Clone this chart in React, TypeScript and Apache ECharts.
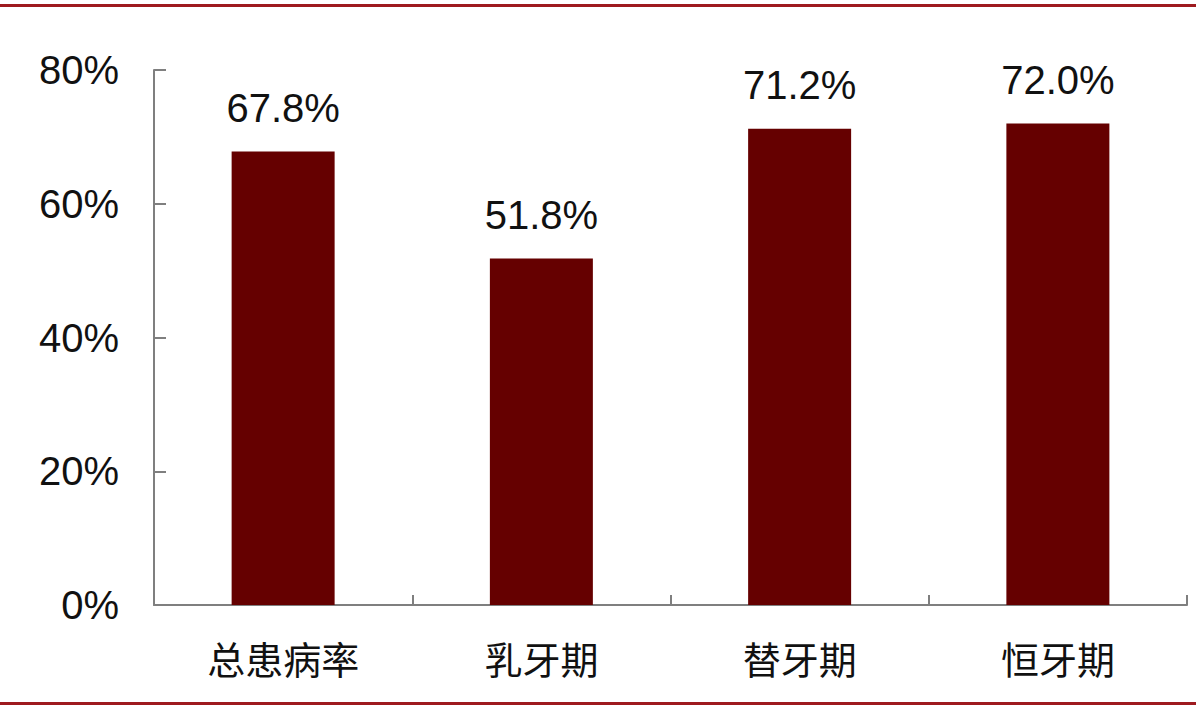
import React, { useEffect, useRef } from "react";
import * as echarts from "echarts";

const categories = ["总患病率", "乳牙期", "替牙期", "恒牙期"];
const values = [67.8, 51.8, 71.2, 72.0];
const yTicks = [0, 20, 40, 60, 80];

export default function App() {
  const ref = useRef<HTMLDivElement>(null);
  useEffect(() => {
    const chart = echarts.init(ref.current!, null, { renderer: "svg" });
    chart.setOption({
      animation: false,
      backgroundColor: "#ffffff",
      grid: { left: 154, right: 9, top: 70, bottom: 105, containLabel: false },
      graphic: [
        { type: "rect", shape: { x: 0, y: 4, width: 1196, height: 3 }, style: { fill: "#9e1a1f" } },
        { type: "rect", shape: { x: 0, y: 702, width: 1196, height: 3 }, style: { fill: "#9e1a1f" } },
      ],
      xAxis: {
        type: "category",
        data: categories,
        axisLine: { lineStyle: { color: "#7f7f7f", width: 2 } },
        axisTick: { show: true, inside: true, length: 10, lineStyle: { color: "#7f7f7f", width: 2 } },
        axisLabel: {
          margin: 33,
          fontSize: 38,
          color: "#111",
          fontFamily: "Noto Sans CJK SC",
        },
      },
      yAxis: {
        type: "value",
        min: yTicks[0],
        max: yTicks[yTicks.length - 1],
        interval: 20,
        splitLine: { show: false },
        axisLine: { show: true, lineStyle: { color: "#7f7f7f", width: 2 } },
        axisTick: { show: true, inside: true, length: 12, lineStyle: { color: "#7f7f7f", width: 2 } },
        axisLabel: {
          margin: 35,
          fontSize: 40,
          color: "#111",
          fontFamily: "Liberation Sans, Arial, sans-serif",
          formatter: (v: number) => v + "%",
        },
      },
      series: [
        {
          type: "bar",
          data: values,
          barWidth: 103,
          itemStyle: { color: "#650000" },
          label: {
            show: true,
            position: "top",
            distance: 24,
            fontSize: 40,
            color: "#111",
            fontFamily: "Liberation Sans, Arial, sans-serif",
            formatter: (p: any) => p.value.toFixed(1) + "%",
          },
        },
      ],
    });
    return () => chart.dispose();
  }, []);
  return (
    <div
      ref={ref}
      style={{ position: "fixed", left: 0, top: 0, width: 1196, height: 710 }}
    />
  );
}
